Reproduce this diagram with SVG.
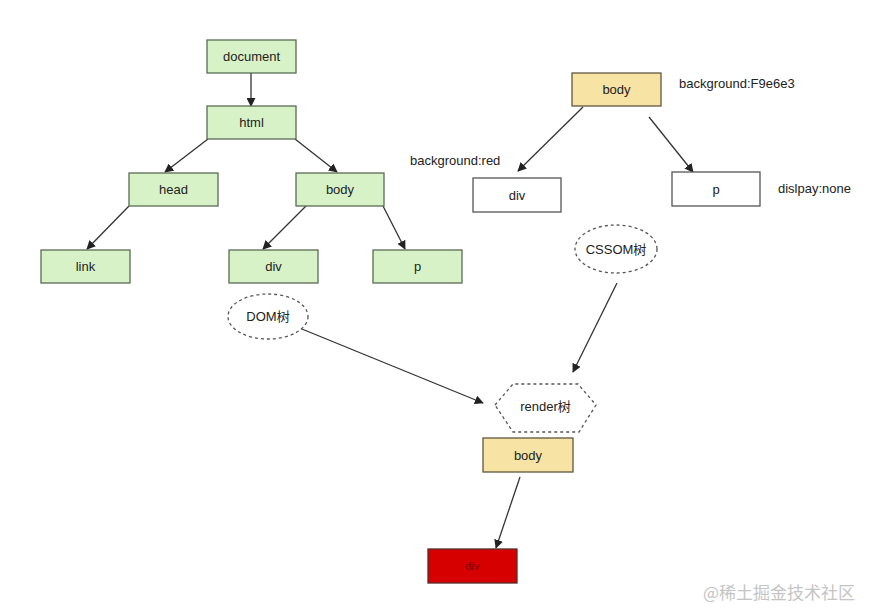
<svg xmlns="http://www.w3.org/2000/svg" width="870" height="609" viewBox="0 0 870 609">
<defs>
<style>
.g{fill:#d8f2c8;stroke:#5a6b55;stroke-width:1.3}
.y{fill:#f7e3a3;stroke:#5f5840;stroke-width:1.3}
.w{fill:#fff;stroke:#555;stroke-width:1.3}
.r{fill:#d60000;stroke:#5a2a2a;stroke-width:1.3}
.d{fill:#fff;stroke:#555;stroke-width:1.3;stroke-dasharray:3 3}
text{font-family:"Liberation Sans",Arial,"Noto Sans CJK SC",sans-serif;font-size:13px;fill:#222}
.c{text-anchor:middle;dominant-baseline:central}
.e line{stroke:#333;stroke-width:1.3;marker-end:url(#a)}
</style>
<marker id="a" viewBox="0 0 10 10" refX="9" refY="5" markerWidth="9" markerHeight="9" markerUnits="userSpaceOnUse" orient="auto">
<path d="M0,0 L10,5 L0,10 z" fill="#222"/>
</marker>
</defs>
<rect width="870" height="609" fill="#fff"/>
<g id="connectors" class="e">
<line x1="251" y1="73" x2="251" y2="106"/>
<line x1="208" y1="139" x2="165" y2="172"/>
<line x1="295" y1="139" x2="337" y2="172"/>
<line x1="129" y1="206" x2="87" y2="249"/>
<line x1="306" y1="206" x2="263" y2="249"/>
<line x1="383" y1="206" x2="405" y2="249"/>
<line x1="583" y1="107" x2="518" y2="171"/>
<line x1="649" y1="117" x2="693" y2="172"/>
<line x1="297" y1="327" x2="483" y2="403"/>
<line x1="617" y1="283" x2="573" y2="372"/>
<line x1="520" y1="477" x2="496" y2="548"/>
</g>
<g id="document"><rect class="g" x="207" y="40" width="89" height="33"/><text class="c" x="251.5" y="56.5">document</text></g>
<g id="html"><rect class="g" x="207" y="106" width="89" height="33"/><text class="c" x="251.5" y="122.5">html</text></g>
<g id="head"><rect class="g" x="129" y="173" width="89" height="33"/><text class="c" x="173.5" y="189.5">head</text></g>
<g id="body"><rect class="g" x="296" y="173" width="88" height="33"/><text class="c" x="340" y="189.5">body</text></g>
<g id="link"><rect class="g" x="41" y="250" width="89" height="33"/><text class="c" x="85.5" y="266.5">link</text></g>
<g id="div"><rect class="g" x="229" y="250" width="89" height="33"/><text class="c" x="273.5" y="266.5">div</text></g>
<g id="p"><rect class="g" x="373" y="250" width="89" height="33"/><text class="c" x="417.5" y="266.5">p</text></g>
<g id="dom-tree"><ellipse class="d" cx="268" cy="316.5" rx="40" ry="22.5"/><text class="c" x="268" y="316.5">DOM树</text></g>
<g id="css-body"><rect class="y" x="572" y="73" width="89" height="33"/><text class="c" x="616.5" y="89.5">body</text></g>
<g id="css-body-note"><text x="679" y="88">background:F9e6e3</text></g>
<g id="css-div"><rect class="w" x="473" y="178" width="88" height="34"/><text class="c" x="517" y="195">div</text></g>
<g id="css-div-note"><text x="410" y="165">background:red</text></g>
<g id="css-p"><rect class="w" x="672" y="172" width="88" height="34"/><text class="c" x="716" y="189">p</text></g>
<g id="css-p-note"><text x="778" y="193">dislpay:none</text></g>
<g id="cssom-tree"><ellipse class="d" cx="616" cy="249" rx="41" ry="24"/><text class="c" x="616" y="249">CSSOM树</text></g>
<g id="render-tree"><polygon class="d" points="495,405 513,384 578,384 596,405 579,432 513,432"/><text class="c" x="545.5" y="406">render树</text></g>
<g id="render-body"><rect class="y" x="483" y="438" width="90" height="34"/><text class="c" x="528" y="455">body</text></g>
<g id="render-div"><rect class="r" x="428" y="549" width="89" height="34"/><text class="c" x="472.5" y="566" style="fill:#7a0000;font-size:11px">div</text></g>
<text x="703" y="599" style="font-size:17px;fill:#c4c4c4;font-family:'Noto Sans CJK SC',sans-serif">@稀土掘金技术社区</text>
</svg>
